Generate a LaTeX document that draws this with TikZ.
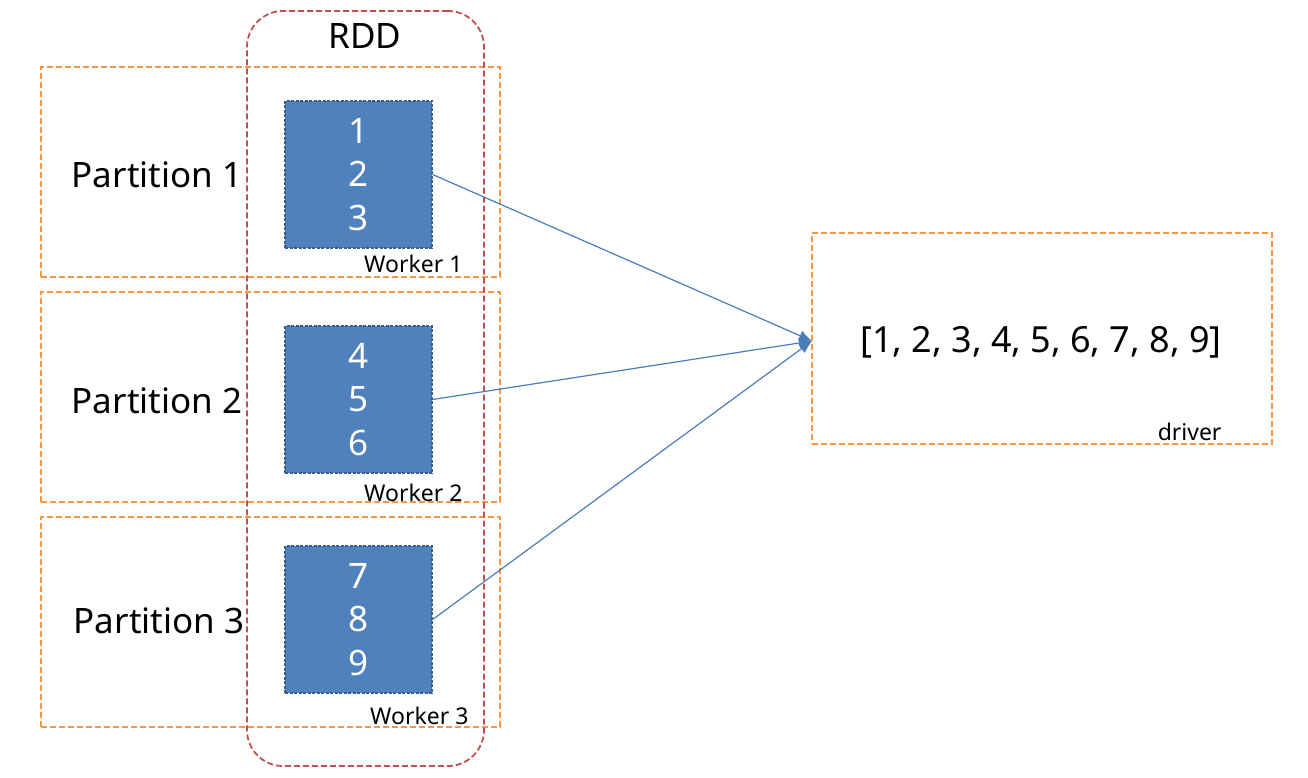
\documentclass[tikz,border=0pt]{standalone}
\usepackage{fontspec}
\setmainfont{Noto Sans}
\usetikzlibrary{arrows.meta}
\definecolor{orng}{RGB}{247,150,70}
\definecolor{rddred}{RGB}{192,80,77}
\definecolor{boxblue}{RGB}{79,129,189}
\definecolor{boxedge}{RGB}{56,93,138}
\definecolor{arrblue}{RGB}{74,126,187}
\tikzset{
  partbox/.style={draw=orng, line width=1.9pt, dash pattern=on 6pt off 3pt, minimum width=459pt, minimum height=210pt, inner sep=0pt},
  rddbox/.style={draw=rddred, line width=1.8pt, dash pattern=on 6pt off 3pt, rounded corners=36pt, minimum width=237pt, minimum height=755pt, inner sep=0pt},
  datbox/.style={fill=boxblue, draw=boxedge, line width=1.2pt, dash pattern=on 3pt off 1.5pt, minimum width=147pt, minimum height=147pt, inner sep=0pt, text=white, font=\fontsize{35}{43.5}\selectfont, align=center},
  parttext/.style={font=\fontsize{35}{40}\selectfont},
  worktext/.style={font=\fontsize{23}{26}\selectfont, anchor=base east},
  conn/.style={draw=arrblue, line width=1.2pt, -{Latex[length=13pt,width=11pt]}}
}
\begin{document}
\begin{tikzpicture}[x=1pt,y=-1pt]
\useasboundingbox (0,0) rectangle (1308,778);
% partitions
\node[partbox] (p1) at (270.5,172) {};
\node[partbox] (p2) at (270.5,397) {};
\node[partbox] (p3) at (270.5,622) {};
\node[partbox, minimum width=460pt, minimum height=211pt] (drv) at (1042,338.5) {};
% RDD
\node[rddbox] (rdd) at (365.5,388.5) {};
\node[font=\fontsize{35}{40}\selectfont] (rddlbl) at (365,36) {RDD};
% labels
\node[parttext] (pt1) at (157,175) {Partition 1};
\node[parttext] (pt2) at (157,401) {Partition 2};
\node[parttext] (pt3) at (159,621) {Partition 3};
% data boxes
\node[datbox] (b1) at (358.5,174.5) {1\\2\\3};
\node[datbox] (b2) at (358.5,399.5) {4\\5\\6};
\node[datbox] (b3) at (358.5,619.5) {7\\8\\9};
% worker labels
\node[worktext] (w1) at (466,272) {Worker 1};
\node[worktext] (w2) at (466,501) {Worker 2};
\node[worktext] (w3) at (472,724) {Worker 3};
% driver
\node[font=\fontsize{36}{40}\selectfont] (res) at (1041,342) {[1, 2, 3, 4, 5, 6, 7, 8, 9]};
\node[worktext] (dl) at (1225,440) {driver};
\coordinate (tip) at (812,341);
% connectors
\draw[conn] (b1.east) -- (tip);
\draw[conn] (b2.east) -- (tip);
\draw[conn] (b3.east) -- (tip);
\end{tikzpicture}
\end{document}
